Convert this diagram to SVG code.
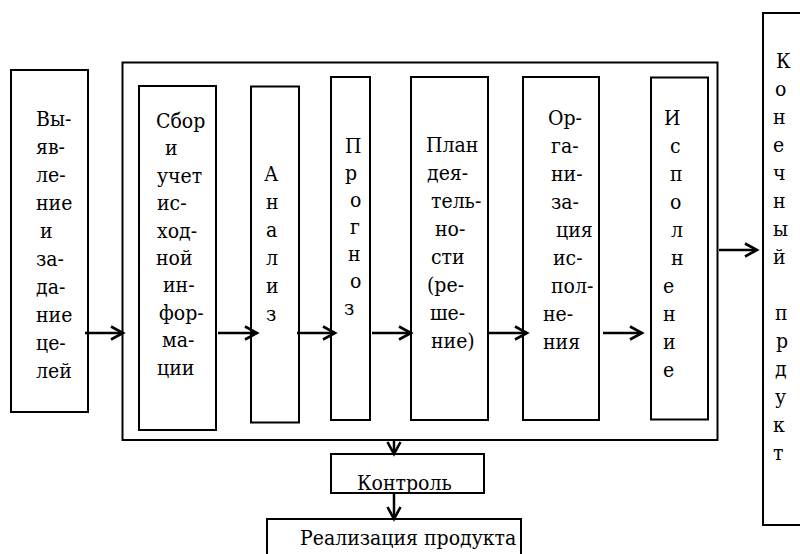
<svg xmlns="http://www.w3.org/2000/svg" width="800" height="554" viewBox="0 0 800 554">
<style>
.box{fill:#fff;stroke:#000;stroke-width:2}
text{font-family:'DejaVu Serif Condensed','DejaVu Serif',serif;font-stretch:condensed;font-size:21px;fill:#000}
.c{stroke:#000;stroke-width:2.5;fill:none}
</style>
<defs>
<marker id="arr" markerUnits="userSpaceOnUse" markerWidth="18" markerHeight="18" refX="14" refY="8" orient="auto">
<path d="M2,1.5 L14,8 L2,14.5" fill="none" stroke="#000" stroke-width="2.6"/>
</marker>
</defs>
<rect width="800" height="554" fill="#fff"/>
<g id="outer"><rect class="box" x="122.5" y="62.5" width="595" height="377.5"/></g>
<g id="n-goals">
<rect class="box" x="11" y="70" width="77" height="342"/>
<text><tspan x="36" y="126">Вы-</tspan><tspan x="36" y="154">яв-</tspan><tspan x="36" y="182">ле-</tspan><tspan x="36" y="210">ние</tspan><tspan x="40" y="238">и</tspan><tspan x="36" y="266">за-</tspan><tspan x="36" y="294">да-</tspan><tspan x="36" y="322">ние</tspan><tspan x="36" y="350">це-</tspan><tspan x="36" y="378">лей</tspan></text>
</g>
<g id="n-collect">
<rect class="box" x="139" y="86" width="77" height="344"/>
<text><tspan x="156" y="128">Сбор</tspan><tspan x="165" y="155.4">и</tspan><tspan x="157" y="182.8">учет</tspan><tspan x="157" y="210.2">ис-</tspan><tspan x="157" y="237.6">ход-</tspan><tspan x="156" y="265">ной</tspan><tspan x="163" y="292.4">ин-</tspan><tspan x="159" y="319.8">фор-</tspan><tspan x="162" y="347.2">ма-</tspan><tspan x="157" y="374.6">ции</tspan></text>
</g>
<g id="n-analysis">
<rect class="box" x="251" y="86.5" width="48" height="336"/>
<text><tspan x="264" y="181">А</tspan><tspan x="266" y="209">н</tspan><tspan x="266" y="237">а</tspan><tspan x="266" y="265">л</tspan><tspan x="266" y="293">и</tspan><tspan x="266" y="321">з</tspan></text>
</g>
<g id="n-forecast">
<rect class="box" x="331" y="77" width="39" height="343"/>
<text><tspan x="345" y="153">П</tspan><tspan x="345" y="180">р</tspan><tspan x="350" y="207">о</tspan><tspan x="350" y="234">г</tspan><tspan x="348" y="261">н</tspan><tspan x="350" y="288">о</tspan><tspan x="344" y="315">з</tspan></text>
</g>
<g id="n-plan">
<rect class="box" x="411" y="77" width="77" height="343"/>
<text><tspan x="426" y="152">План</tspan><tspan x="427" y="180">дея-</tspan><tspan x="431" y="208">тель-</tspan><tspan x="435" y="236">но-</tspan><tspan x="431" y="264">сти</tspan><tspan x="427" y="292">(ре-</tspan><tspan x="430" y="320">ше-</tspan><tspan x="431" y="348">ние)</tspan></text>
</g>
<g id="n-org">
<rect class="box" x="523" y="77" width="76" height="343"/>
<text><tspan x="548" y="125">Ор-</tspan><tspan x="551" y="153">га-</tspan><tspan x="551" y="181">ни-</tspan><tspan x="551" y="209">за-</tspan><tspan x="556" y="237">ция</tspan><tspan x="553" y="265">ис-</tspan><tspan x="551" y="293">пол-</tspan><tspan x="543" y="321">не-</tspan><tspan x="543" y="349">ния</tspan></text>
</g>
<g id="n-exec">
<rect class="box" x="651" y="77.5" width="57" height="342"/>
<text><tspan x="664" y="125">И</tspan><tspan x="670" y="153">с</tspan><tspan x="670" y="181">п</tspan><tspan x="670" y="209">о</tspan><tspan x="671" y="237">л</tspan><tspan x="671" y="265">н</tspan><tspan x="663" y="293">е</tspan><tspan x="663" y="321">н</tspan><tspan x="663" y="349">и</tspan><tspan x="663" y="377">е</tspan></text>
</g>
<g id="n-product">
<rect class="box" x="763" y="13" width="50" height="512"/>
<text><tspan x="776" y="68">К</tspan><tspan x="775" y="96">о</tspan><tspan x="773" y="124">н</tspan><tspan x="773" y="152">е</tspan><tspan x="773" y="180">ч</tspan><tspan x="773" y="208">н</tspan><tspan x="773" y="236">ы</tspan><tspan x="773" y="264">й</tspan><tspan x="775" y="320">п</tspan><tspan x="776" y="348">р</tspan><tspan x="775" y="376">д</tspan><tspan x="775" y="404">у</tspan><tspan x="773" y="432">к</tspan><tspan x="773" y="460">т</tspan></text>
</g>
<g id="n-control">
<rect class="box" x="331" y="454" width="153" height="39"/>
<text x="357" y="490">Контроль</text>
</g>
<g id="n-realization">
<rect class="box" x="267" y="519" width="254" height="45"/>
<text x="300" y="545">Реализация продукта</text>
</g>
<g id="connectors">
<line class="c" x1="85" y1="333" x2="123" y2="333" marker-end="url(#arr)"/>
<line class="c" x1="218" y1="333" x2="257" y2="333" marker-end="url(#arr)"/>
<line class="c" x1="297" y1="333" x2="335" y2="333" marker-end="url(#arr)"/>
<line class="c" x1="372" y1="333" x2="411" y2="333" marker-end="url(#arr)"/>
<line class="c" x1="488" y1="333" x2="527" y2="333" marker-end="url(#arr)"/>
<line class="c" x1="603" y1="333" x2="642" y2="333" marker-end="url(#arr)"/>
<line class="c" x1="719" y1="250" x2="757" y2="250" marker-end="url(#arr)"/>
<line class="c" x1="394" y1="441" x2="394" y2="454" marker-end="url(#arr)"/>
<line class="c" x1="394" y1="494" x2="394" y2="519" marker-end="url(#arr)"/>
</g>
</svg>
